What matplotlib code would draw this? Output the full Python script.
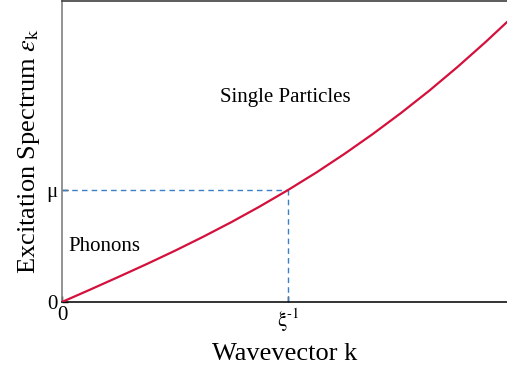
import matplotlib
matplotlib.use("Agg")
import matplotlib.pyplot as plt

plt.rcParams['font.family'] = ['Liberation Serif', 'DejaVu Serif']
plt.rcParams['mathtext.fontset'] = 'stix'

# dispersion curve, k in units of 1/xi and energy in units of mu
k_vals = [0.0, 0.125, 0.25, 0.375, 0.5, 0.625, 0.75, 0.875, 1.0,
          1.125, 1.25, 1.375, 1.5, 1.625, 1.75, 1.875, 1.97]
eps_vals = [0.0, 0.111, 0.224, 0.339, 0.458, 0.583, 0.714, 0.853, 1.0,
            1.156, 1.323, 1.500, 1.688, 1.887, 2.099, 2.323, 2.502]

k_xi = 1.0
mu = 1.0
x_ticks = [0.0, k_xi]
x_labels = ['0', r'$\mathrm{\xi^{\text{-1}}}$']
y_ticks = [0.0, mu]
y_labels = ['0', 'μ']

fig = plt.figure(figsize=(5.07, 3.69), dpi=100)
ax = fig.add_axes([0.1223, 0.1816, 0.8777, 0.8157])

ax.plot(k_vals, eps_vals, color='#d4103c', lw=1.6, zorder=3)
ax.plot([0, k_xi], [mu, mu], ls=(0, (4, 3)), color='#3b80c6', lw=1.0)
ax.plot([k_xi, k_xi], [0, mu], ls=(0, (4, 3)), color='#3b80c6', lw=1.0)

ax.set_xlim(0, 1.97)
ax.set_ylim(0, 2.69)
ax.set_xticks(x_ticks)
ax.set_xticklabels(x_labels, fontsize=15)
ax.set_yticks(y_ticks)
ax.set_yticklabels(y_labels, fontsize=15)
ax.tick_params(axis='both', direction='in', length=4, width=1)
ax.tick_params(axis='x', pad=3)
ax.tick_params(axis='y', pad=3)

ax.spines['right'].set_visible(False)
ax.spines['left'].set_color('#808080')
ax.spines['top'].set_color('#404040')
ax.spines['bottom'].set_color('#111111')
for s in ax.spines.values():
    s.set_linewidth(1.2)

ax.set_xlabel('Wavevector k', fontsize=19, labelpad=7)
ax.set_ylabel(r'Excitation Spectrum $\epsilon_{\mathrm{k}}$', fontsize=19, labelpad=3)

ax.text(0.027, 0.5, 'Phonons', fontsize=15, va='center', ha='left')
ax.text(0.987, 1.83, 'Single Particles', fontsize=15, va='center', ha='center')

fig.savefig('out.png', dpi=100)
